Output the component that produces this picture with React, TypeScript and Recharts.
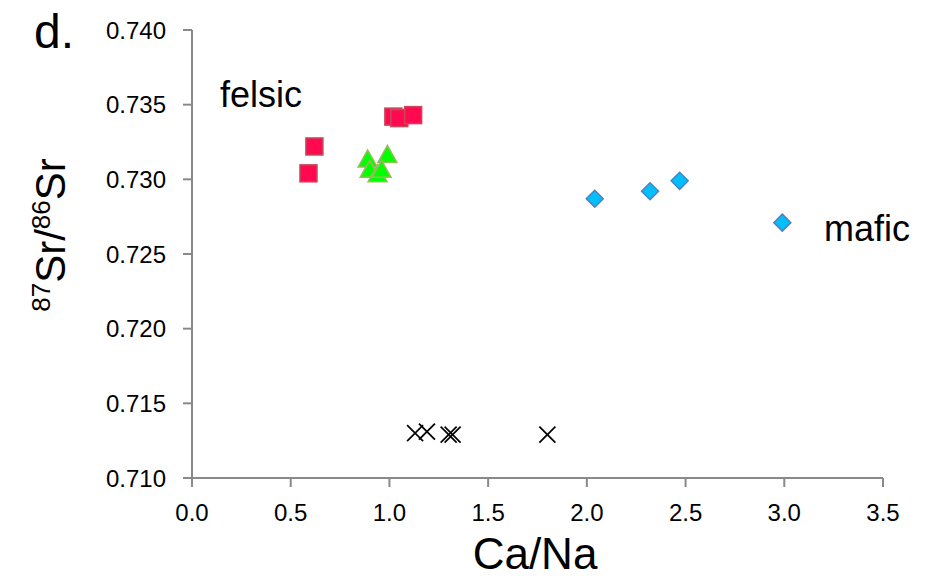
import { ScatterChart, Scatter, XAxis, YAxis } from "recharts"

// Ca/Na vs 87Sr/86Sr, grouped by source rock
const felsicCaNa = [0.59, 0.62, 1.02, 1.05, 1.12]
const felsicSr = [0.7304, 0.7322, 0.7342, 0.7341, 0.7343]

const mixedCaNa = [0.89, 0.99, 0.9, 0.94, 0.96]
const mixedSr = [0.7313, 0.7316, 0.7306, 0.7303, 0.7306]

const maficCaNa = [2.04, 2.32, 2.47, 2.99]
const maficSr = [0.7287, 0.7292, 0.7299, 0.7271]

const otherCaNa = [1.13, 1.19, 1.3, 1.32, 1.8]
const otherSr = [0.713, 0.7131, 0.7129, 0.7129, 0.7129]

const xTicks = [0, 0.5, 1, 1.5, 2, 2.5, 3, 3.5]
const yTicks = [0.71, 0.715, 0.72, 0.725, 0.73, 0.735, 0.74]

const toPoints = (xs: number[], ys: number[]) => xs.map((x, i) => ({ x, y: ys[i] }))

const FONT = '"Liberation Sans", Arial, sans-serif'
const AXIS = "#898989"

const Square = ({ cx, cy }: any) => (
  <rect x={cx - 8.5} y={cy - 8.5} width={17} height={17} fill="#FF0A50" stroke="#C8485A" strokeWidth={1.5} />
)

const Triangle = ({ cx, cy }: any) => (
  <polygon
    points={`${cx},${cy - 10} ${cx - 9.5},${cy + 7} ${cx + 9.5},${cy + 7}`}
    fill="#00FF00"
    stroke="#9BBB59"
    strokeWidth={1.5}
  />
)

const Diamond = ({ cx, cy }: any) => (
  <polygon
    points={`${cx},${cy - 8.5} ${cx + 8.5},${cy} ${cx},${cy + 8.5} ${cx - 8.5},${cy}`}
    fill="#00BFFF"
    stroke="#4F81BD"
    strokeWidth={1.5}
  />
)

const Cross = ({ cx, cy }: any) => (
  <g stroke="#000" strokeWidth={1.7}>
    <line x1={cx - 8} y1={cy - 8} x2={cx + 8} y2={cy + 8} />
    <line x1={cx - 8} y1={cy + 8} x2={cx + 8} y2={cy - 8} />
  </g>
)

export default function App() {
  const tickStyle = { fill: "#000", fontSize: 24, fontFamily: FONT }
  return (
    <div style={{ position: "absolute", left: 0, top: 0, width: 931, height: 581, background: "#fff" }}>
      <ScatterChart width={931} height={581} margin={{ top: 30, right: 48, bottom: 0, left: 0 }}>
        <XAxis
          type="number"
          dataKey="x"
          domain={[0, 3.5]}
          ticks={xTicks}
          tickFormatter={(v: number) => v.toFixed(1)}
          height={103}
          stroke={AXIS}
          strokeWidth={2}
          tickSize={9}
          tickMargin={17}
          tick={tickStyle}
          allowDataOverflow
        />
        <YAxis
          type="number"
          dataKey="y"
          domain={[0.71, 0.74]}
          ticks={yTicks}
          tickFormatter={(v: number) => v.toFixed(3)}
          width={192}
          stroke={AXIS}
          strokeWidth={2}
          tickSize={9}
          tickMargin={17}
          tick={tickStyle}
          allowDataOverflow
        />
        <Scatter data={toPoints(felsicCaNa, felsicSr)} shape={Square} isAnimationActive={false} />
        <Scatter data={toPoints(mixedCaNa, mixedSr)} shape={Triangle} isAnimationActive={false} />
        <Scatter data={toPoints(maficCaNa, maficSr)} shape={Diamond} isAnimationActive={false} />
        <Scatter data={toPoints(otherCaNa, otherSr)} shape={Cross} isAnimationActive={false} />
      </ScatterChart>
      <svg
        width={931}
        height={581}
        style={{ position: "absolute", left: 0, top: 0, pointerEvents: "none" }}
        fontFamily={FONT}
      >
        <text x={34} y={48} fontSize={48}>d.</text>
        <text x={220} y={107} fontSize={36}>felsic</text>
        <text x={824} y={241} fontSize={36}>mafic</text>
        <text x={535} y={569} fontSize={44} textAnchor="middle">Ca/Na</text>
        <text transform="translate(65,235) rotate(-90)" textAnchor="middle" fontSize={42}>
          <tspan fontSize={26} dy={-15}>87</tspan>
          <tspan dy={15}>Sr/</tspan>
          <tspan fontSize={26} dy={-15}>86</tspan>
          <tspan dy={15}>Sr</tspan>
        </text>
      </svg>
    </div>
  )
}
